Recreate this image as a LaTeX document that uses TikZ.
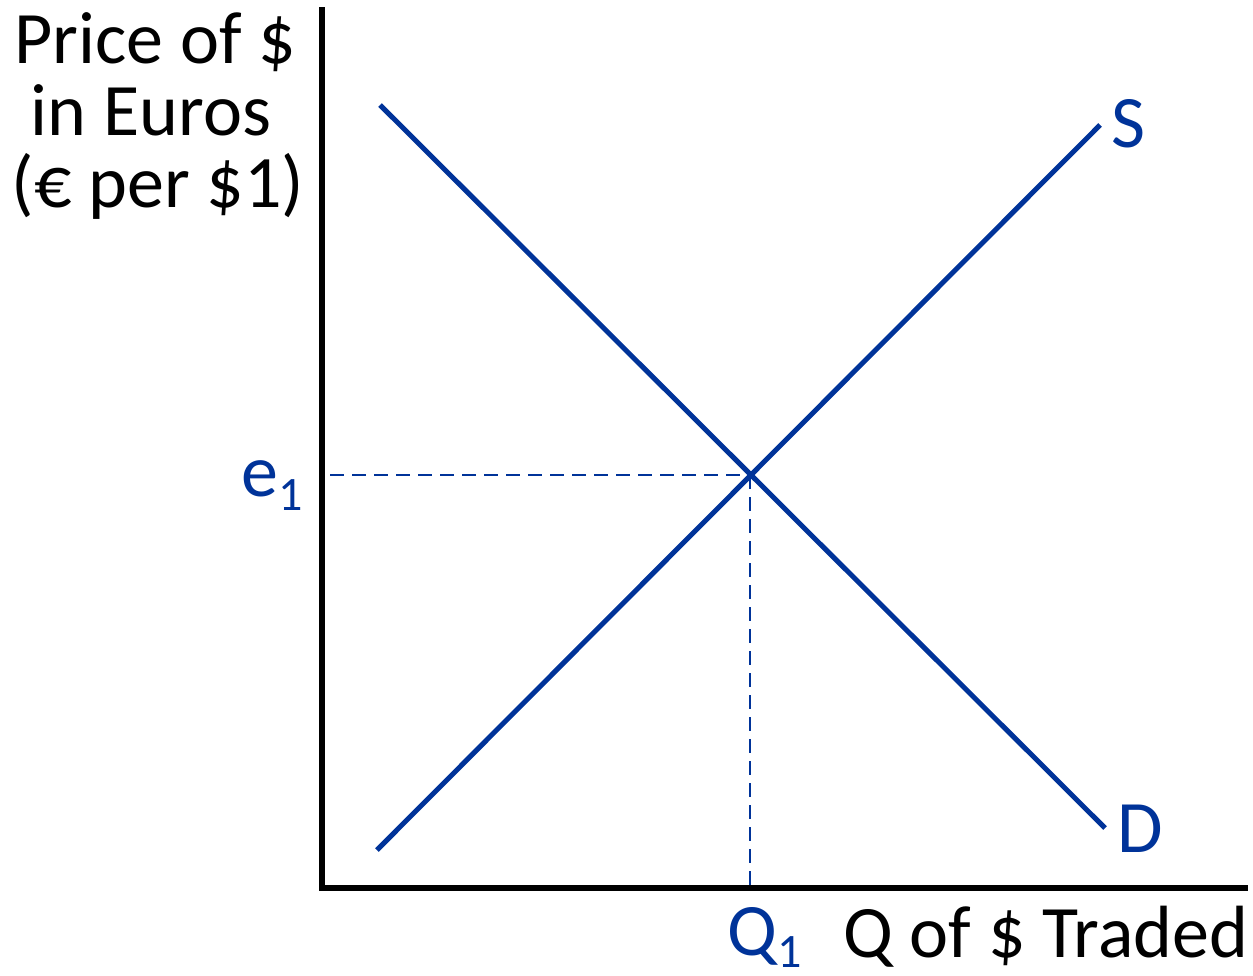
\documentclass[tikz,border=0pt]{standalone}
\usepackage{fontspec}
\setmainfont{Carlito}
\definecolor{curveblue}{HTML}{003399}
\begin{document}
\begin{tikzpicture}[x=1pt,y=-1pt,
  axis/.style={line width=5.5pt,black},
  curve/.style={line width=5pt,curveblue},
  guide/.style={line width=1.8pt,curveblue,dash pattern=on 14pt off 8pt},
  lbl/.style={inner sep=0pt,font=\fontsize{74}{72}\selectfont},
  bluelbl/.style={lbl,text=curveblue}]
\useasboundingbox (0,0) rectangle (1253,975);
\coordinate (ytop) at (322,10);
\coordinate (orig) at (322,888);
\coordinate (xend) at (1245,888);
\coordinate (d1) at (380,105);
\coordinate (d2) at (1105,828);
\coordinate (s1) at (377,850);
\coordinate (s2) at (1100,125);
\coordinate (eq) at (750,475);
\coordinate (ey) at (330,475);
\coordinate (qx) at (750,888);
% axes
\draw[axis,line cap=rect] (ytop) -- (orig) -- (xend);
% guides
\draw[guide] (ey) -- (eq);
\draw[guide] (eq) -- (qx);
% curves
\draw[curve] (d1) -- (d2);
\draw[curve] (s1) -- (s2);
% labels
\node[lbl,anchor=base] (yl1) at (155,63) {Price of \$};
\node[lbl,anchor=base] (yl2) at (151,135) {in Euros};
\node[lbl,anchor=base] (yl3) at (158,207) {(€ per \$1)};
\node[lbl,anchor=base west] (xl) at (843,957) {Q of \$ Traded};
\node[bluelbl,anchor=base west] (slbl) at (1111,147) {S};
\node[bluelbl,anchor=base west] (dlbl) at (1117,852) {D};
\node[bluelbl,anchor=base west] (elbl) at (241,496) {e\raisebox{-14pt}{\fontsize{48}{48}\selectfont 1}};
\node[bluelbl,anchor=base west] (qlbl) at (727,955) {Q\raisebox{-12pt}{\fontsize{48}{48}\selectfont 1}};
\end{tikzpicture}
\end{document}
